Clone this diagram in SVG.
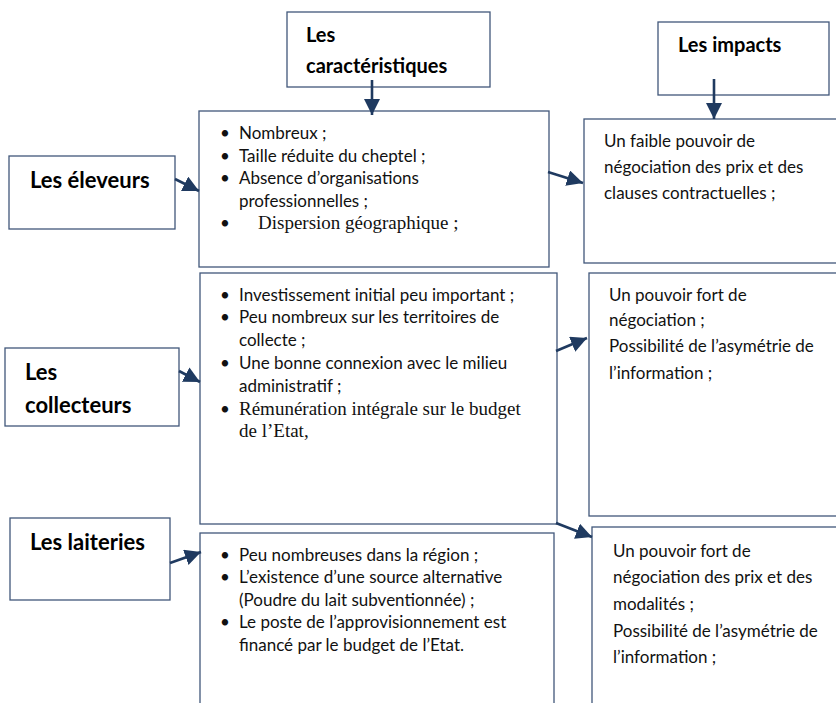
<svg xmlns="http://www.w3.org/2000/svg" width="836" height="703" viewBox="0 0 836 703">
<defs>
<style>
.box{fill:#fff;stroke:#41577a;stroke-width:1.3}
.t{font-family:Lato,"Liberation Sans",sans-serif;font-size:17px;fill:#111}
.s{font-family:"Liberation Serif",serif;font-size:19px;fill:#111}
.h{font-family:Lato,"Liberation Sans",sans-serif;font-size:22px;font-weight:bold;fill:#000}
.h2{font-family:Lato,"Liberation Sans",sans-serif;font-size:20px;font-weight:bold;fill:#000}
.c{stroke:#1f3a60;stroke-width:2.6;fill:none}
</style>
<marker id="ah" viewBox="0 0 10 10" refX="10" refY="5" markerWidth="6.2" markerHeight="6.2" markerUnits="strokeWidth" orient="auto">
<path d="M0,0 L10,5 L0,10 z" fill="#1f3a60"/>
</marker>
</defs>
<rect width="836" height="703" fill="#fff"/>

<g id="head-caracteristiques">
<rect class="box" x="287" y="12" width="203" height="75"/>
<text class="h2" x="306" y="42">Les</text>
<text class="h2" x="306" y="73">caractéristiques</text>
</g>
<g id="head-impacts">
<rect class="box" x="658" y="22" width="171" height="73"/>
<text class="h2" x="678" y="52">Les impacts</text>
</g>

<g id="eleveurs">
<rect class="box" x="9" y="156" width="166" height="73"/>
<text class="h" x="30" y="188">Les éleveurs</text>
</g>
<g id="collecteurs">
<rect class="box" x="5" y="348" width="174" height="78"/>
<text class="h" x="25" y="380">Les</text>
<text class="h" x="25" y="413">collecteurs</text>
</g>
<g id="laiteries">
<rect class="box" x="10" y="518" width="160" height="82"/>
<text class="h" x="30" y="550">Les laiteries</text>
</g>

<g id="carac-eleveurs">
<rect class="box" x="199" y="111" width="350" height="156"/>
<text class="t" x="220" y="139">•</text><text class="t" x="239" y="139">Nombreux ;</text>
<text class="t" x="220" y="162">•</text><text class="t" x="239" y="162">Taille réduite du cheptel ;</text>
<text class="t" x="220" y="184">•</text><text class="t" x="239" y="184">Absence d’organisations</text>
<text class="t" x="239" y="207">professionnelles ;</text>
<text class="t" x="220" y="229">•</text><text class="s" x="258" y="229">Dispersion géographique ;</text>
</g>
<g id="carac-collecteurs">
<rect class="box" x="200" y="273" width="357" height="251"/>
<text class="t" x="220" y="301">•</text><text class="t" x="239" y="301">Investissement initial peu important ;</text>
<text class="t" x="220" y="323">•</text><text class="t" x="239" y="323">Peu nombreux sur les territoires de</text>
<text class="t" x="239" y="346">collecte ;</text>
<text class="t" x="220" y="369">•</text><text class="t" x="239" y="369">Une bonne connexion avec le milieu</text>
<text class="t" x="239" y="392">administratif ;</text>
<text class="t" x="220" y="415">•</text><text class="s" x="239" y="415">Rémunération intégrale sur le budget</text>
<text class="s" x="239" y="437">de l’Etat,</text>
</g>
<g id="carac-laiteries">
<rect class="box" x="200" y="533" width="354" height="190"/>
<text class="t" x="220" y="561">•</text><text class="t" x="239" y="561">Peu nombreuses dans la région ;</text>
<text class="t" x="220" y="583">•</text><text class="t" x="239" y="583">L’existence d’une source alternative</text>
<text class="t" x="239" y="606">(Poudre du lait subventionnée) ;</text>
<text class="t" x="220" y="628">•</text><text class="t" x="239" y="628">Le poste de l’approvisionnement est</text>
<text class="t" x="239" y="651">financé par le budget de l’Etat.</text>
</g>

<g id="impact-eleveurs">
<rect class="box" x="584" y="119" width="280" height="144"/>
<text class="t" x="604" y="147">Un faible pouvoir de</text>
<text class="t" x="604" y="173">négociation des prix et des</text>
<text class="t" x="604" y="199">clauses contractuelles ;</text>
</g>
<g id="impact-collecteurs">
<rect class="box" x="589" y="273" width="280" height="243"/>
<text class="t" x="609" y="301">Un pouvoir fort de</text>
<text class="t" x="609" y="326">négociation ;</text>
<text class="t" x="609" y="352">Possibilité de l’asymétrie de</text>
<text class="t" x="609" y="379">l’information ;</text>
</g>
<g id="impact-laiteries">
<rect class="box" x="592" y="527" width="280" height="200"/>
<text class="t" x="613" y="557">Un pouvoir fort de</text>
<text class="t" x="613" y="583">négociation des prix et des</text>
<text class="t" x="613" y="610">modalités ;</text>
<text class="t" x="613" y="637">Possibilité de l’asymétrie de</text>
<text class="t" x="613" y="663">l’information ;</text>
</g>

<g id="connectors">
<line class="c" x1="372" y1="80" x2="372" y2="115" marker-end="url(#ah)"/>
<line class="c" x1="714" y1="79" x2="714" y2="119" marker-end="url(#ah)"/>
<line class="c" x1="175" y1="179" x2="199" y2="191" marker-end="url(#ah)"/>
<line class="c" x1="179" y1="371" x2="200" y2="382" marker-end="url(#ah)"/>
<line class="c" x1="170" y1="563" x2="201" y2="552" marker-end="url(#ah)"/>
<line class="c" x1="548" y1="172" x2="583" y2="183" marker-end="url(#ah)"/>
<line class="c" x1="556" y1="351" x2="587" y2="338" marker-end="url(#ah)"/>
<line class="c" x1="556" y1="523" x2="592" y2="537" marker-end="url(#ah)"/>
</g>
</svg>
